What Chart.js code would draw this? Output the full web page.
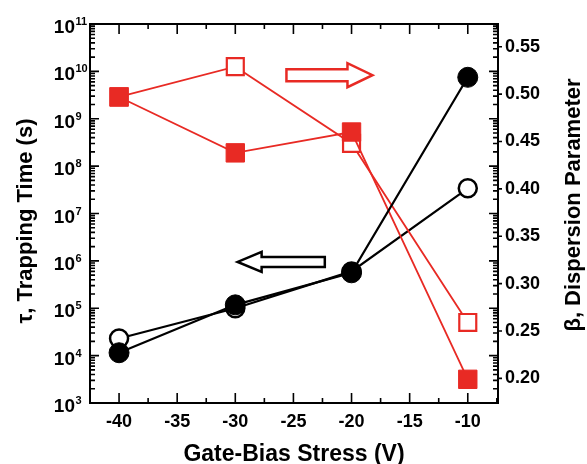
<!DOCTYPE html>
<html lang="en">
<head>
<meta charset="UTF-8">
<title>Trapping time and dispersion parameter</title>
<script src="https://cdn.jsdelivr.net/npm/chart.js"></script>
<style>
  html, body { margin: 0; padding: 0; background: #fff; }
  canvas { display: block; }
</style>
</head>
<body>
<canvas id="stressChart" width="587" height="464"></canvas>
<script>
// gate-bias stress (V)
const STRESS = [-40, -30, -20, -10];
// tau, trapping time (s) - left log axis
const TAU_FILLED = [1.15e4, 1.18e5, 5.6e5, 7.5e9];
const TAU_OPEN = [2.3e4, 1.0e5, 6.0e5, 3.4e7];
// beta, dispersion parameter - right axis
const BETA_FILLED = [0.497, 0.438, 0.460, 0.199];
const BETA_OPEN = [0.497, 0.529, 0.448, 0.259];

// tick values
const X_TICKS = [-40, -35, -30, -25, -20, -15, -10];
const X_MINOR = [-42.5, -37.5, -32.5, -27.5, -22.5, -17.5, -12.5, -7.5];
const TAU_DECADES = [3, 4, 5, 6, 7, 8, 9, 10, 11];
const BETA_TICKS = [0.20, 0.25, 0.30, 0.35, 0.40, 0.45, 0.50, 0.55];

// direction arrows (which axis each group belongs to)
const TAU_ARROW = { from: -22.3, to: -29.8, at: 9.5e5 };
const BETA_ARROW = { from: -25.6, to: -18.2, at: 0.520 };

const RED = 'rgb(232, 42, 36)';
const FONT = '"Liberation Sans", Arial, sans-serif';

function pts(xs, ys) {
    return xs.map((x, i) => ({ x: x, y: ys[i] }));
}

function hollowArrow(ctx, xTail, xTip, y, shaftHalf, headHalf, headLen, color) {
    const dir = xTip > xTail ? 1 : -1;
    const xBase = xTip - dir * headLen;
    ctx.beginPath();
    ctx.moveTo(xTail, y - shaftHalf);
    ctx.lineTo(xBase, y - shaftHalf);
    ctx.lineTo(xBase, y - headHalf);
    ctx.lineTo(xTip, y);
    ctx.lineTo(xBase, y + headHalf);
    ctx.lineTo(xBase, y + shaftHalf);
    ctx.lineTo(xTail, y + shaftHalf);
    ctx.closePath();
    ctx.fillStyle = '#fff';
    ctx.fill();
    ctx.lineWidth = 2.5;
    ctx.lineJoin = 'miter';
    ctx.strokeStyle = color;
    ctx.stroke();
}

// frame, inward ticks, superscript labels, titles and arrows
const axisFrame = {
    id: 'axisFrame',
    beforeDraw(chart) {
        const ctx = chart.ctx;
        ctx.save();
        ctx.fillStyle = '#fff';
        ctx.fillRect(0, 0, chart.width, chart.height);
        ctx.restore();
    },
    afterDraw(chart) {
        const ctx = chart.ctx;
        const a = chart.chartArea;
        const xs = chart.scales.x, ys = chart.scales.y, bs = chart.scales.y1;
        ctx.save();

        // arrows
        hollowArrow(ctx, xs.getPixelForValue(TAU_ARROW.from), xs.getPixelForValue(TAU_ARROW.to),
            ys.getPixelForValue(TAU_ARROW.at), 5, 10, 24, '#000');
        hollowArrow(ctx, xs.getPixelForValue(BETA_ARROW.from), xs.getPixelForValue(BETA_ARROW.to),
            bs.getPixelForValue(BETA_ARROW.at), 6, 12, 25, RED);

        ctx.strokeStyle = '#000';
        ctx.lineWidth = 2;
        ctx.strokeRect(a.left, a.top, a.right - a.left, a.bottom - a.top);

        ctx.lineWidth = 1.6;
        ctx.beginPath();
        // x ticks, bottom and top
        X_TICKS.forEach(v => {
            const px = xs.getPixelForValue(v);
            ctx.moveTo(px, a.bottom); ctx.lineTo(px, a.bottom - 10);
            ctx.moveTo(px, a.top); ctx.lineTo(px, a.top + 10);
        });
        X_MINOR.forEach(v => {
            const px = xs.getPixelForValue(v);
            ctx.moveTo(px, a.bottom); ctx.lineTo(px, a.bottom - 5);
            ctx.moveTo(px, a.top); ctx.lineTo(px, a.top + 5);
        });
        // log ticks, left and mirrored on the right
        TAU_DECADES.forEach(d => {
            const py = ys.getPixelForValue(Math.pow(10, d));
            ctx.moveTo(a.left, py); ctx.lineTo(a.left + 9, py);
            ctx.moveTo(a.right, py); ctx.lineTo(a.right - 9, py);
            if (d < 11) {
                for (let m = 2; m <= 9; m++) {
                    const pm = ys.getPixelForValue(m * Math.pow(10, d));
                    ctx.moveTo(a.left, pm); ctx.lineTo(a.left + 5, pm);
                    ctx.moveTo(a.right, pm); ctx.lineTo(a.right - 5, pm);
                }
            }
        });
        // beta ticks, short and outward
        BETA_TICKS.forEach(v => {
            const py = bs.getPixelForValue(v);
            ctx.moveTo(a.right, py); ctx.lineTo(a.right + 4, py);
        });
        ctx.stroke();

        // left labels: 10 with superscript exponent
        ctx.fillStyle = '#000';
        ctx.textBaseline = 'alphabetic';
        TAU_DECADES.forEach(d => {
            const py = ys.getPixelForValue(Math.pow(10, d));
            ctx.font = 'bold 19px ' + FONT;
            ctx.textAlign = 'right';
            ctx.fillText('10', 75, py + 9);
            ctx.font = 'bold 11px ' + FONT;
            ctx.textAlign = 'left';
            ctx.fillText(String(d), 75.5, py + 1);
        });

        // axis titles
        ctx.font = 'bold 22px ' + FONT;
        ctx.textAlign = 'center';
        ctx.textBaseline = 'middle';
        ctx.save();
        ctx.translate(26, 221);
        ctx.rotate(-Math.PI / 2);
        ctx.fillText('\u03c4, Trapping Time (s)', 0, 0);
        ctx.restore();
        ctx.save();
        ctx.translate(574, 205);
        ctx.rotate(-Math.PI / 2);
        ctx.fillText('\u03b2, Dispersion Parameter', 0, 0);
        ctx.restore();
        ctx.textBaseline = 'alphabetic';
        ctx.font = 'bold 23px ' + FONT;
        ctx.fillText('Gate-Bias Stress (V)', (a.left + a.right) / 2, 461);

        ctx.restore();
    }
};

const tickFont = { family: FONT, size: 18, weight: 'bold' };

new Chart(document.getElementById('stressChart'), {
    type: 'line',
    data: {
        datasets: [
            {
                label: 'tau (filled)',
                data: pts(STRESS, TAU_FILLED),
                yAxisID: 'y',
                borderColor: '#000', borderWidth: 2.2,
                pointStyle: 'circle', pointRadius: 10,
                pointBackgroundColor: '#000', pointBorderColor: '#000', pointBorderWidth: 1
            },
            {
                label: 'beta (filled)',
                data: pts(STRESS, BETA_FILLED),
                yAxisID: 'y1',
                borderColor: RED, borderWidth: 1.8,
                pointStyle: 'rect', pointRadius: 13,
                pointBackgroundColor: RED, pointBorderColor: RED, pointBorderWidth: 1
            },
            {
                label: 'beta (open)',
                data: pts(STRESS, BETA_OPEN),
                yAxisID: 'y1',
                borderColor: RED, borderWidth: 1.8,
                pointStyle: 'rect', pointRadius: 12,
                pointBackgroundColor: '#fff', pointBorderColor: RED, pointBorderWidth: 2.2
            },
            {
                label: 'tau (open)',
                data: pts(STRESS, TAU_OPEN),
                yAxisID: 'y',
                borderColor: '#000', borderWidth: 2.2,
                pointStyle: 'circle', pointRadius: 9,
                pointBackgroundColor: '#fff', pointBorderColor: '#000', pointBorderWidth: 2.5
            }
        ]
    },
    options: {
        responsive: false,
        animation: false,
        layout: { padding: { top: 24, left: 0, right: 0, bottom: 0 } },
        plugins: { legend: { display: false }, tooltip: { enabled: false } },
        scales: {
            x: {
                type: 'linear', min: -42.5, max: -7.4,
                afterBuildTicks: s => { s.ticks = X_TICKS.map(v => ({ value: v })); },
                afterFit: s => { s.height = 61; },
                ticks: { font: tickFont, color: '#000', padding: 8, maxRotation: 0, callback: v => String(v) },
                grid: { display: false, drawTicks: false },
                border: { display: false }
            },
            y: {
                type: 'logarithmic', position: 'left', min: 1e3, max: 1e11,
                afterFit: s => { s.width = 90; },
                ticks: { display: false },
                grid: { display: false, drawTicks: false },
                border: { display: false }
            },
            y1: {
                type: 'linear', position: 'right', min: 0.174, max: 0.574,
                afterBuildTicks: s => { s.ticks = BETA_TICKS.map(v => ({ value: v })); },
                afterFit: s => { s.width = 89; },
                ticks: { font: tickFont, color: '#000', padding: 7, callback: v => v.toFixed(2) },
                grid: { display: false, drawTicks: false },
                border: { display: false }
            }
        }
    },
    plugins: [axisFrame]
});
</script>
</body>
</html>
